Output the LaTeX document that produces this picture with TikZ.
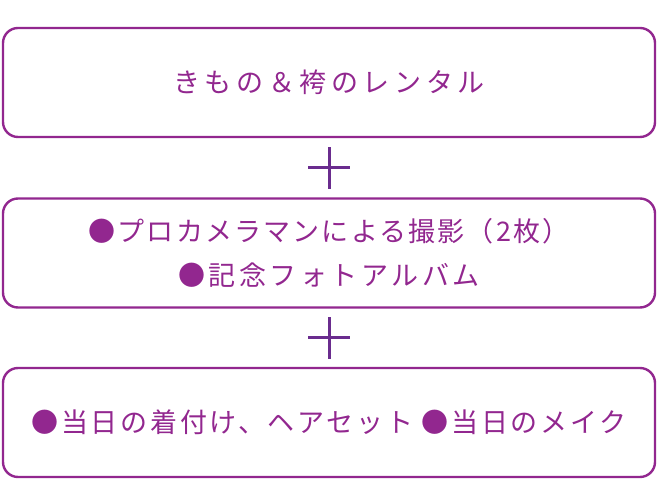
\documentclass[tikz,border=0pt]{standalone}
\usepackage{fontspec}
\newfontfamily\jpfont{Noto Sans CJK JP}
\usepackage{tikz}
\usetikzlibrary{positioning,calc}
\definecolor{plum}{HTML}{92278F}
\definecolor{plusviolet}{HTML}{6A2C8E}
\tikzset{
  planbox/.style={draw=plum,line width=2.4pt,rounded corners=15pt,minimum width=652pt,minimum height=109pt,
    text=plum,align=center,inner sep=0pt,font=\jpfont\fontsize{27}{44}\selectfont},
  plusbar/.style={draw=plusviolet,line width=3pt}
}

\begin{document}
\begin{tikzpicture}[x=1pt,y=1pt]
\useasboundingbox (0,0) rectangle (660,500);
\node[planbox] (rental) at (329,417.5) {\addfontfeatures{LetterSpace=17}きもの＆袴のレンタル};
\node[planbox] (photo) at (329,247) {\addfontfeatures{LetterSpace=8}●プロカメラマンによる撮影（2枚）\\\addfontfeatures{LetterSpace=13}●記念フォトアルバム};
\node[planbox] (dressing) at (329,77.5) {\addfontfeatures{LetterSpace=10}●当日の着付け、ヘアセット ●当日のメイク};
% plus signs between the boxes
\coordinate (plusA) at ($(rental.south)!0.5!(photo.north)$);
\coordinate (plusB) at ($(photo.south)!0.5!(dressing.north)$);
\foreach \p in {plusA,plusB}{
  \draw[plusbar] ([xshift=-21pt]\p) -- ([xshift=21pt]\p);
  \draw[plusbar] ([yshift=-21pt]\p) -- ([yshift=21pt]\p);
}
\end{tikzpicture}
\end{document}
